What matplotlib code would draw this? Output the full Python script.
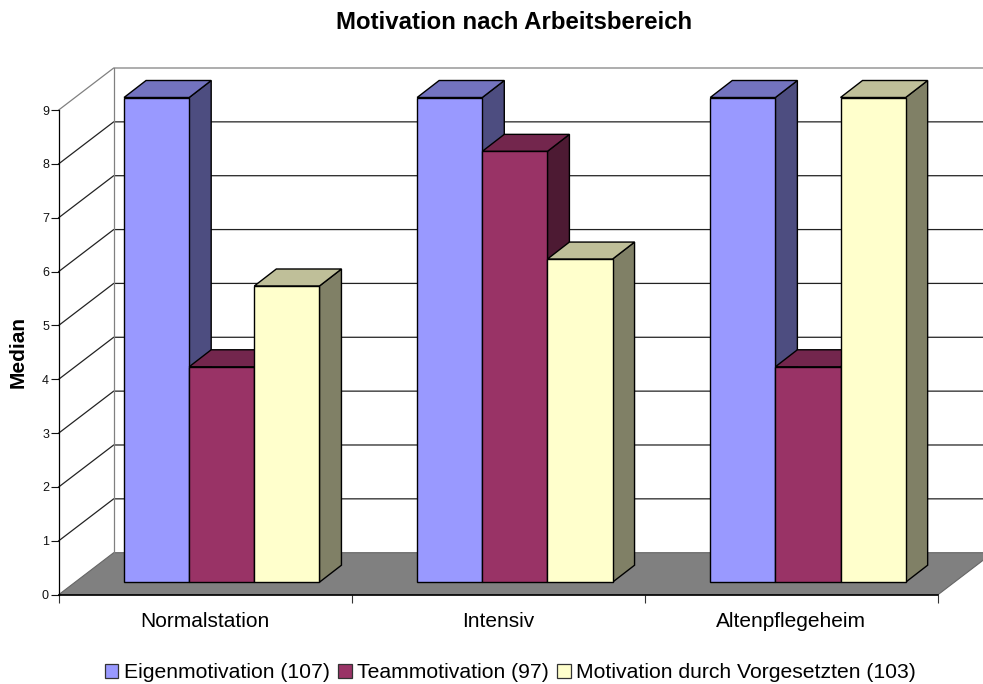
import matplotlib
matplotlib.use("Agg")
import matplotlib.pyplot as plt
from matplotlib.patches import Patch, Polygon
from matplotlib.transforms import Affine2D

plt.rcParams["font.family"] = ["Liberation Sans", "DejaVu Sans"]

# Data
categories = ["Normalstation", "Intensiv", "Altenpflegeheim"]
series_names = [
    "Eigenmotivation (107)",
    "Teammotivation (97)",
    "Motivation durch Vorgesetzten (103)",
]
eigen = [9, 9, 9]
team = [4, 8, 4]
vorgesetzte = [5.5, 6, 9]
series_values = [eigen, team, vorgesetzte]
y_ticks = list(range(10))

# Colors: front, top, side
front_colors = ["#9999ff", "#993366", "#ffffcc"]
top_colors = ["#7373bf", "#73264d", "#bfbf99"]
side_colors = ["#4d4d80", "#4d1a33", "#808066"]

# Oblique projection, in pixels at dpi 100
WALL_DX, WALL_DY = 55, 42
BAR_DX, BAR_DY = 16.5, 12.5
DEPTH_DX, DEPTH_DY = 22, 17

fig = plt.figure(figsize=(9.83, 6.84), dpi=100)
ax = fig.add_axes([58.7 / 983, (684 - 594.7) / 684, 879.3 / 983, 484.7 / 684])
ax.set_xlim(0, 3)
ax.set_ylim(0, 9)
ax.patch.set_alpha(0)

wall = ax.transData + Affine2D().translate(WALL_DX, WALL_DY)
bar_front = ax.transData + Affine2D().translate(BAR_DX, BAR_DY)
bar_back = bar_front + Affine2D().translate(DEPTH_DX, DEPTH_DY)

# Floor
floor_pts = [
    ax.transData.transform((0, 0)),
    wall.transform((0, 0)),
    wall.transform((3, 0)),
    ax.transData.transform((3, 0)),
]
ax.add_patch(Polygon(floor_pts, closed=True, transform=None, facecolor="#808080",
                     edgecolor="#666666", lw=0.8, zorder=1, clip_on=False))

# Grid on the side wall and the back wall
for y in y_ticks[1:]:
    p0 = ax.transData.transform((0, y))
    p1 = wall.transform((0, y))
    p2 = wall.transform((3, y))
    color = "#808080" if y == y_ticks[-1] else "#222222"
    ax.plot([p0[0], p1[0], p2[0]], [p0[1], p1[1], p2[1]], transform=None, color=color,
            lw=0.9, zorder=1, clip_on=False)
# Back wall left edge
p_low = wall.transform((0, 0))
p_top = wall.transform((0, y_ticks[-1]))
ax.plot([p_low[0], p_top[0]], [p_low[1], p_top[1]], transform=None, color="#808080",
        lw=0.9, zorder=1, clip_on=False)

# Bars
n_series = len(series_values)
bar_w = (2 / 3) / n_series
zorder = 2
for i in range(len(categories)):
    for s in range(n_series):
        val = series_values[s][i]
        x0 = i + 1 / 6 + s * bar_w
        x1 = x0 + bar_w
        side = [bar_front.transform((x1, 0)), bar_back.transform((x1, 0)),
                bar_back.transform((x1, val)), bar_front.transform((x1, val))]
        top = [bar_front.transform((x0, val)), bar_back.transform((x0, val)),
               bar_back.transform((x1, val)), bar_front.transform((x1, val))]
        ax.add_patch(Polygon(side, closed=True, transform=None, facecolor=side_colors[s],
                             edgecolor="black", lw=1.0, zorder=zorder, clip_on=False))
        ax.add_patch(Polygon(top, closed=True, transform=None, facecolor=top_colors[s],
                             edgecolor="black", lw=1.0, zorder=zorder, clip_on=False))
        ax.bar(x0, val, bar_w, align="edge", color=front_colors[s], edgecolor="black",
               lw=1.0, transform=bar_front, zorder=zorder, clip_on=False)
        zorder += 1

# Axes
for name in ["top", "right"]:
    ax.spines[name].set_visible(False)
ax.spines["left"].set_linewidth(0.9)
ax.spines["bottom"].set_linewidth(1.2)
ax.spines["left"].set_zorder(50)
ax.spines["bottom"].set_zorder(50)
ax.set_yticks(y_ticks)
ax.tick_params(axis="y", labelsize=9, length=5.8, width=0.8, pad=1.2, colors="#111111")
ax.set_xticks(range(len(categories) + 1))
ax.set_xticklabels([])
ax.tick_params(axis="x", length=5.8, width=0.8, color="#333333")
for i, name in enumerate(categories):
    ax.annotate(name, (i + 0.5, 0), xytext=(0, -32 * 0.72), textcoords="offset points",
                xycoords=ax.get_xaxis_transform(), ha="center", va="baseline", fontsize=15)

fig.text(514.5 / 983, 1 - 29.3 / 684, "Motivation nach Arbeitsbereich", ha="center", va="baseline",
         fontsize=17.3, fontweight="bold")
fig.text(18 / 983, 1 - 352.5 / 684, "Median", rotation=90, ha="center", va="center",
         fontsize=15, fontweight="bold")

# Legend
handles = [Patch(facecolor=c, edgecolor="#333333", lw=0.9) for c in front_colors]
fig.legend(handles, series_names, loc="center", bbox_to_anchor=(510.5 / 983, 1 - 673 / 684),
           ncol=3, frameon=False, fontsize=15.2, handlelength=0.64, handleheight=0.64,
           handletextpad=0.25, columnspacing=0.41, borderpad=0, borderaxespad=0)

fig.savefig("out.png", dpi=100)
